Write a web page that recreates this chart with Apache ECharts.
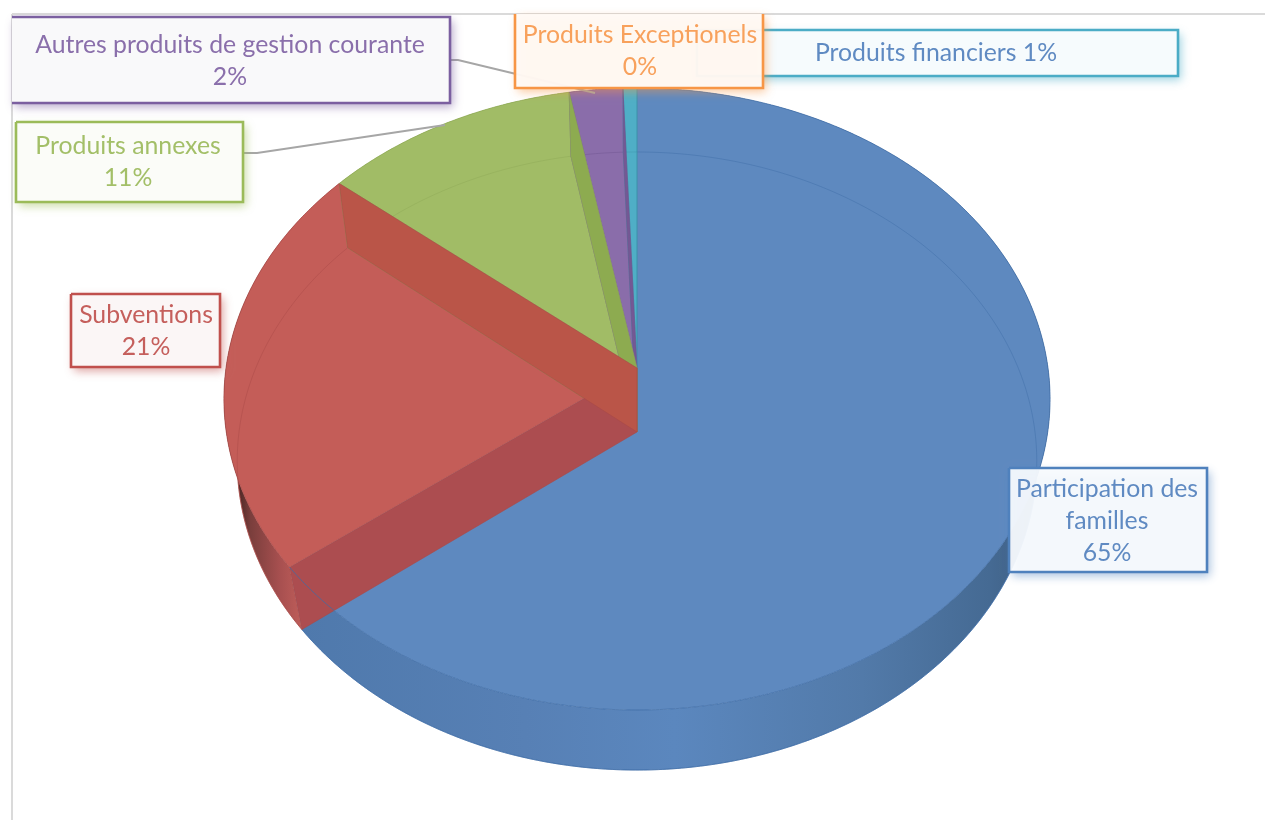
<!DOCTYPE html>
<html><head><meta charset="utf-8">
<style>html,body{margin:0;padding:0;background:#fff}#c{width:1265px;height:820px}</style>
<script src="https://cdn.jsdelivr.net/npm/echarts@6/dist/echarts.min.js"></script>
</head><body><div id="c"></div>
<script>
// ---- data ----
const names = ['Participation des\nfamilles', 'Subventions', 'Produits annexes', 'Autres produits de gestion courante', 'Produits financiers', 'Produits Exceptionels'];
const values = [64.6, 21.4, 11.1, 2.3, 0.6, 0.0];

// ---- styles ----
const faceColors = ['#5E89BF', '#C45D58', '#A1BC66', '#8A6DAA', '#4FAEC6', '#F79646'];
const edgeColors = ['#3F6CA6', '#A84A47', '#8FA957', '#6F5590', '#3E93AA', '#D87F33'];
const wallStart  = ['#5E89BF', '#AC4D50', '#8DAB50', '#7C5F9C', '#459DB4', '#D87F33'];
const wallEnd    = ['#5E89BF', '#BA5548', '#8DAB50', '#745894', '#459DB4', '#D87F33'];
const textColors = ['#5F8AC2', '#C55F5C', '#A3BF68', '#8A6FAB', '#5F8AC2', '#F8A15C'];
const boxColors  = ['#4F81BD', '#C0504D', '#9BBB59', '#7B5FA0', '#4BACC6', '#F79646'];
const boxFills   = ['rgba(250,252,254,0.93)', '#FBF6F6', '#FBFCF8', '#F9F9FA', '#F6FBFD', 'rgba(255,250,246,0.95)'];
const paintRank  = [0, 5, 4, 3, 2, 1];

// ---- layout: box [x, y, w, h], text centre, open sides ----
const boxes = [
  {x:1009, y:468, w:198, h:104, tx:1107, ty:521},
  {x:71,   y:294, w:149, h:73,  tx:146,  ty:331},
  {x:16,   y:122, w:227, h:80,  tx:128,  ty:162},
  {x:12,   y:17,  w:438, h:86,  tx:230,  ty:61, openLeft:true},
  {x:697,  y:30,  w:481, h:46,  tx:936,  ty:53, inline:true},
  {x:515,  y:14,  w:248, h:74,  tx:640,  ty:51, openTop:true}
];
const leaders = [
  null, null,
  [[243,153],[257,153],[445,125]],
  [[450,60],[458,60],[595,93]],
  null, null
];
const top3d = {cx:637, cy:368, A:307.9, B:411, k:0.0997};
const bot3d = {cx:637, cy:432, A:306.3, B:398, k:0.0939};
function proj(p, deg){
  const r = deg*Math.PI/180, u = Math.sin(r), v = Math.cos(r), w = 1+p.k*v;
  return [p.cx + p.B*u/w, p.cy - p.A*v/w];
}
function arc(p, a0, a1){
  const n = Math.max(2, Math.ceil((a1-a0)*2)), out = [];
  for(let i=0;i<=n;i++) out.push(proj(p, a0+(a1-a0)*i/n));
  return out;
}
const total = values.reduce((a,b)=>a+b,0);
const starts = []; values.reduce((acc,v,i)=>{starts[i]=acc; return acc+v;},0);

const LG = echarts.graphic.LinearGradient;
const wallFill = [
  new LG(300,0,1050,0,[{offset:0,color:'#4F79AC'},{offset:.3,color:'#5780B5'},{offset:.5,color:'#5B87BE'},{offset:.75,color:'#527AA9'},{offset:.92,color:'#456A93'},{offset:1,color:'#3B587B'}],true),
  new LG(228,0,303,0,[{offset:0,color:'#2A1512'},{offset:.3,color:'#7A3E3C'},{offset:.7,color:'#A85050'},{offset:1,color:'#C05E5A'}],true),
  '#8DAB50','#7C5F9C','#459DB4','#D87F33'
];

function renderSlice(params, api){
  const i = params.dataIndex, val = api.value(0);
  const a0 = starts[i]/total*360, a1 = (starts[i]+val)/total*360;
  const kids = [], rank = paintRank[i];
  if(val > 0){
    const tArc = arc(top3d,a0,a1), bArc = arc(bot3d,a0,a1);
    kids.push({type:'polygon', z2:1, shape:{points:tArc.concat(bArc.slice().reverse())}, style:{fill:wallFill[i], stroke:null}});
    kids.push({type:'polyline', z2:2, shape:{points:bArc}, style:{fill:null, stroke:edgeColors[i], lineWidth:1, opacity:.7}});
    kids.push({type:'polygon', z2:10, shape:{points:[[top3d.cx,top3d.cy]].concat(tArc)}, style:{fill:faceColors[i], stroke:null}});
    kids.push({type:'polyline', z2:11, shape:{points:bArc}, style:{fill:null, stroke:edgeColors[i], lineWidth:1, opacity:.45}});
    const wall = (a,c,z)=>{
      const tp = proj(top3d,a), bp = proj(bot3d,a);
      return {type:'polygon', z2:z, shape:{points:[[top3d.cx,top3d.cy],tp,bp,[bot3d.cx,bot3d.cy]]},
              style:{fill:c, stroke:edgeColors[i], lineWidth:1, strokeOpacity:.6}};
    };
    if(i>0){
      kids.push(wall(a0,wallStart[i],20+rank*2));
      kids.push(wall(a1,wallEnd[i],21+rank*2));
    }
    kids.push({type:'polyline', z2:40, shape:{points:tArc}, style:{fill:null, stroke:edgeColors[i], lineWidth:1, opacity:.75}});
  }
  if(leaders[i]) kids.push({type:'polyline', z2:45, shape:{points:leaders[i]}, style:{fill:null, stroke:'#A6A6A6', lineWidth:2}});
  const b = boxes[i], col = boxColors[i], z = 50 + (i===5?10:0) + (i===4?2:0);
  kids.push({type:'rect', z2:z, shape:{x:b.x,y:b.y,width:b.w,height:b.h},
    style:{fill:boxFills[i], stroke:null, shadowBlur:9, shadowOffsetX:3, shadowOffsetY:4, shadowColor:col+'88'}});
  const L=b.x,R=b.x+b.w,T=b.y,B=b.y+b.h;
  const pts = b.openTop ? [[L,T],[L,B],[R,B],[R,T]]
            : b.openLeft ? [[L,T],[R,T],[R,B],[L,B]]
            : [[L,T],[R,T],[R,B],[L,B],[L,T]];
  kids.push({type:'polyline', z2:z+1, shape:{points:pts}, style:{fill:null, stroke:col, lineWidth:2.6}});
  const pct = Math.round(val/total*100)+'%';
  kids.push({type:'text', z2:z+2, style:{
    text: names[i] + (b.inline?' ':'\n') + pct,
    x:b.tx, y:b.ty, align:'center', verticalAlign:'middle',
    font:'24.8px Lato', lineHeight:32, fill:textColors[i]
  }});
  return {type:'group', children:kids};
}

const chart = echarts.init(document.getElementById('c'), null, {renderer:'canvas'});
chart.setOption({
  animation:false,
  backgroundColor:'#fff',
  graphic:[
    {type:'line', shape:{x1:12,y1:14,x2:1265,y2:14}, style:{stroke:'#DADADA', lineWidth:2}, z:-1},
    {type:'line', shape:{x1:12,y1:14,x2:12,y2:820}, style:{stroke:'#DADADA', lineWidth:2}, z:-1}
  ],
  series:[{
    type:'custom', coordinateSystem:'none', silent:true,
    renderItem:renderSlice,
    data:values.map(v=>[v])
  }]
});
</script></body></html>
